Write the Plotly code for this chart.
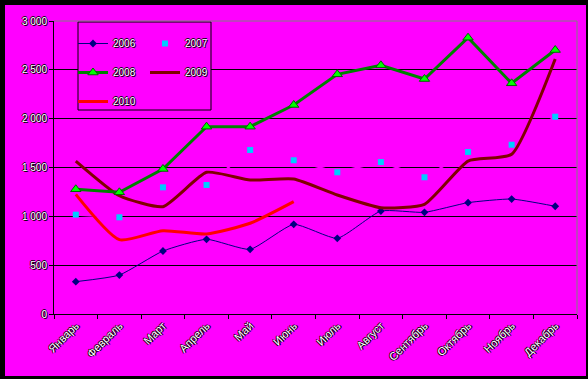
import plotly.graph_objects as go

months = ["Январь", "Февраль", "Март", "Апрель", "Май", "Июнь",
          "Июль", "Август", "Сентябрь", "Октябрь", "Ноябрь", "Декабрь"]
s2006 = [331, 399, 645, 765, 662, 918, 775, 1054, 1041, 1140, 1177, 1103]
s2007 = [1017, 990, 1297, 1321, 1679, 1574, 1451, 1556, 1400, 1659, 1733, 2020]
s2008 = [1277, 1246, 1485, 1918, 1918, 2140, 2454, 2546, 2406, 2829, 2362, 2703]
s2009 = [1566, 1211, 1099, 1451, 1372, 1382, 1218, 1088, 1123, 1566, 1635, 2611]
s2010 = [1225, 761, 853, 819, 929, 1150]
ytick_vals = [0, 500, 1000, 1500, 2000, 2500, 3000]
ytick_text = ["0", "500", "1 000", "1 500", "2 000", "2 500", "3 000"]

MAG = "#FF00FF"
W, H = 588, 379
L, R, T, B = 54, 11, 21, 65
PW, PH = W - L - R, H - T - B


def px(x):
    return (x - L) / PW


def py(y):
    return (H - B - y) / PH


SH = "1px 1px 0px #000000, -1px 0px 0px #000000, 0px -1px 0px #000000"
FAM = "Liberation Sans, Arial, sans-serif"
font = dict(family=FAM, size=10, color="white", shadow=SH)
xfont = dict(family=FAM, size=11, color="white", shadow=SH)

fig = go.Figure()
fig.add_trace(go.Scatter(x=months, y=s2007, name="2007", mode="lines+markers",
                         line=dict(color=MAG, width=2),
                         marker=dict(symbol="square", size=6, color="#00CCFF"),
                         legend="legend2", legendgroup="g2007", legendrank=1))
fig.add_trace(go.Scatter(x=months, y=s2006, name="2006", mode="lines+markers",
                         line=dict(color="#000080", width=1, shape="spline", smoothing=0.5),
                         marker=dict(symbol="diamond", size=6, color="#000080"),
                         legend="legend", legendgroup="g2006", legendrank=1))
fig.add_trace(go.Scatter(x=months, y=s2009, name="2009", mode="lines",
                         line=dict(color="#800000", width=3, shape="spline", smoothing=0.5),
                         legend="legend2", legendgroup="g2009", legendrank=2))
fig.add_trace(go.Scatter(x=months[:len(s2010)], y=s2010, name="2010", mode="lines",
                         line=dict(color="#FF0000", width=3, shape="spline", smoothing=0.6),
                         legend="legend", legendgroup="g2010", legendrank=3))
fig.add_trace(go.Scatter(x=months, y=s2008, name="2008", mode="lines+markers",
                         line=dict(color="#008000", width=3),
                         marker=dict(symbol="triangle-up", size=9, color="#00FF00",
                                     line=dict(color="#006400", width=1)),
                         legend="legend", legendgroup="g2008", legendrank=2))

leg_common = dict(bgcolor="rgba(0,0,0,0)", borderwidth=0, font=font,
                  traceorder="grouped", tracegroupgap=10, itemwidth=30,
                  xanchor="left", yanchor="top")

shapes = [
    dict(type="rect", xref="paper", yref="paper", x0=px(5), x1=px(586), y0=py(376), y1=py(5),
         fillcolor=MAG, line=dict(width=0), layer="below"),
    dict(type="rect", xref="paper", yref="paper", x0=px(78), x1=px(211), y0=py(110), y1=py(22),
         fillcolor=MAG, line=dict(color="black", width=1), layer="above"),
    dict(type="line", xref="paper", yref="paper", x0=0, x1=1, y0=1, y1=1,
         line=dict(color="#808080", width=1), layer="above"),
    dict(type="line", xref="paper", yref="paper", x0=1, x1=1, y0=0, y1=1,
         line=dict(color="#808080", width=1), layer="above"),
]

fig.update_layout(
    width=W, height=H, autosize=False,
    margin=dict(l=L, r=R, t=T, b=B, pad=0, autoexpand=False),
    paper_bgcolor="black", plot_bgcolor=MAG,
    font=font,
    showlegend=True,
    legend=dict(x=px(73), y=py(29), **leg_common),
    legend2=dict(x=px(145), y=py(29), **leg_common),
    shapes=shapes,
    xaxis=dict(type="category", range=[-0.5, 11.5], showgrid=False, automargin=False,
               showline=True, linecolor="black", linewidth=1,
               ticks="outside", tickson="boundaries", ticklen=4, tickcolor="black",
               tickangle=-45, tickfont=xfont, zeroline=False),
    yaxis=dict(range=[0, 3000], tickvals=ytick_vals, ticktext=ytick_text, automargin=False,
               showgrid=True, gridcolor="black", gridwidth=1,
               showline=True, linecolor="black", linewidth=1,
               ticks="outside", ticklen=4, tickcolor="black",
               tickfont=font, zeroline=False),
)

fig.write_html("out.html", config={"displayModeBar": False},
               post_script="document.body.style.margin='0';document.body.style.overflow='hidden';")
